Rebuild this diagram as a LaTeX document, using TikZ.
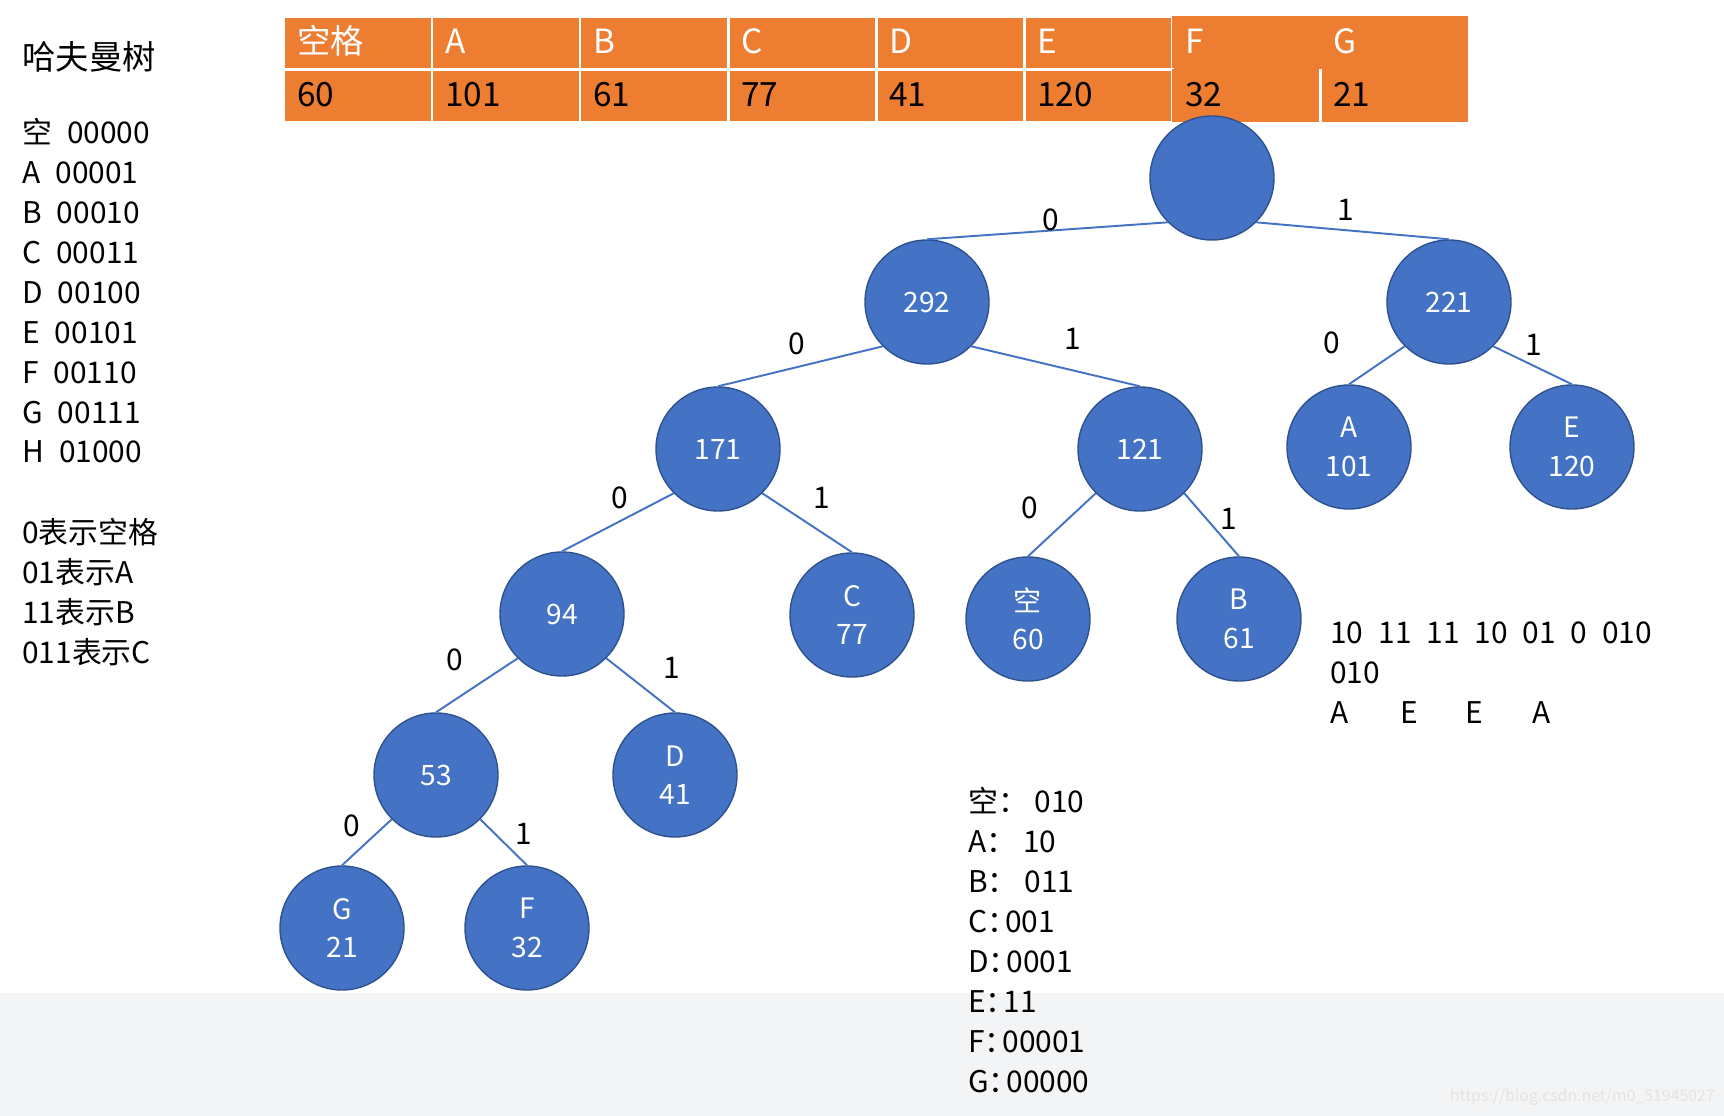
\documentclass[tikz,border=0pt]{standalone}
\usepackage{fontspec}
\setmainfont{Noto Sans CJK SC}
\usepackage{tikz}
\usetikzlibrary{positioning}
\definecolor{hfblue}{HTML}{4472C4}
\definecolor{hfborder}{HTML}{2F528F}
\definecolor{hforange}{HTML}{ED7D31}
\definecolor{hfband}{HTML}{F3F4F6}

\begin{document}
\begin{tikzpicture}[
    cell/.style={rectangle, fill=hforange, draw=white, line width=1.7pt, outer sep=0pt, minimum width=2.96cm, minimum height=1.06cm, inner xsep=0.26cm, inner ysep=0pt, text width=2.44cm, text height=1.5em, text depth=0.25em, align=left, font=\fontsize{19}{22}\selectfont},
    headcell/.style={cell, text=white},
    valcell/.style={cell, text=black},
    hnode/.style={circle, fill=hfblue, draw=hfborder, line width=0.8pt, minimum size=2.48cm, inner sep=0pt, align=center, text=white, font=\fontsize{16}{21.8}\selectfont},
    branch/.style={hfblue, line width=1.1pt},
    bit/.style={midway, inner sep=0pt, text=black, font=\fontsize{17}{20}\selectfont},
    note/.style={anchor=base west, inner sep=0pt, align=left, font=\fontsize{17}{22.7}\selectfont}
]
\useasboundingbox (0,0) rectangle (34.48,-22.32);
\fill[white] (0,0) rectangle (34.48,-22.32);
\fill[hfband] (0,-19.86) rectangle (34.48,-22.32);

% weight table
\node[headcell, anchor=north west] (hKong) at (5.68,-0.33) {空格};
\node[headcell, right=0pt of hKong] (hA) {A};
\node[headcell, right=0pt of hA] (hB) {B};
\node[headcell, right=0pt of hB] (hC) {C};
\node[headcell, right=0pt of hC] (hD) {D};
\node[headcell, right=0pt of hD] (hE) {E};
\node[headcell, draw=none, right=0pt of hE] (hF) {F};
\node[headcell, draw=none, right=0pt of hF] (hG) {G};
\node[valcell, below=0pt of hKong] (vKong) {60};
\node[valcell, below=0pt of hA] (vA) {101};
\node[valcell, below=0pt of hB] (vB) {61};
\node[valcell, below=0pt of hC] (vC) {77};
\node[valcell, below=0pt of hD] (vD) {41};
\node[valcell, below=0pt of hE] (vE) {120};
\node[valcell, draw=none, below=0pt of hF] (vF) {32};
\node[valcell, draw=none, below=0pt of hG] (vG) {21};
\draw[white, line width=1.7pt] (vF.north east) -- (vF.south east);

% tree
\node[hnode] (root) at (24.24,-3.56) {};
\node[hnode] (n292) at (18.54,-6.04) {292};
\node[hnode] (n221) at (28.98,-6.04) {221};
\node[hnode] (n171) at (14.36,-8.98) {171};
\node[hnode] (n121) at (22.80,-8.98) {121};
\node[hnode] (nA) at (26.98,-8.94) {A\\101};
\node[hnode] (nE) at (31.44,-8.94) {E\\120};
\node[hnode] (n94) at (11.24,-12.28) {94};
\node[hnode] (nC) at (17.04,-12.30) {C\\77};
\node[hnode] (nKong) at (20.56,-12.38) {空\\60};
\node[hnode] (nB) at (24.78,-12.38) {B\\61};
\node[hnode] (n53) at (8.72,-15.50) {53};
\node[hnode] (nD) at (13.50,-15.50) {D\\41};
\node[hnode] (nG) at (6.84,-18.56) {G\\21};
\node[hnode] (nF) at (10.54,-18.56) {F\\32};

\draw[branch] (root.south west) -- node[bit, xshift=1.7pt, yshift=6.2pt] {0} (n292.north);
\draw[branch] (root.south east) -- node[bit, xshift=-4pt, yshift=11.9pt] {1} (n221.north);
\draw[branch] (n292.south west) -- node[bit, xshift=-2.3pt, yshift=13pt] {0} (n171.north);
\draw[branch] (n292.south east) -- node[bit, xshift=9.6pt, yshift=15.9pt] {1} (n121.north);
\draw[branch] (n221.south west) -- node[bit, xshift=-25.5pt, yshift=12.5pt] {0} (nA.north);
\draw[branch] (n221.south east) -- node[bit, xshift=0.6pt, yshift=11.9pt] {1} (nE.north);
\draw[branch] (n171.south west) -- node[bit, xshift=1.1pt, yshift=14.2pt] {0} (n94.north);
\draw[branch] (n171.south east) -- node[bit, xshift=8.5pt, yshift=14.2pt] {1} (nC.north);
\draw[branch] (n121.south west) -- node[bit, xshift=-18.1pt, yshift=9.6pt] {0} (nKong.north);
\draw[branch] (n121.south east) -- node[bit, xshift=9.6pt, yshift=3.4pt] {1} (nB.north);
\draw[branch] (n94.south west) -- node[bit, xshift=-12.5pt, yshift=14.7pt] {0} (n53.north);
\draw[branch] (n94.south east) -- node[bit, xshift=17.6pt, yshift=10.2pt] {1} (nD.north);
\draw[branch] (n53.south west) -- node[bit, xshift=-8.5pt, yshift=9.6pt] {0} (nG.north);
\draw[branch] (n53.south east) -- node[bit, xshift=11.3pt, yshift=5.1pt] {1} (nF.north);

% notes (base = last line)
\node[note, font=\fontsize{19}{23}\selectfont] (title) at (0.44,-1.40) {哈夫曼树};
\node[note] (codes) at (0.44,-9.26) {空\enspace 00000\\A\enspace 00001\\B\enspace 00010\\C\enspace 00011\\D\enspace 00100\\E\enspace 00101\\F\enspace 00110\\G\enspace 00111\\H\enspace 01000};
\node[note] (rules) at (0.44,-13.26) {0表示空格\\01表示A\\11表示B\\011表示C};
\node[note] (msg) at (26.60,-14.46) {10\enspace 11\enspace 11\enspace 10\enspace 01\enspace 0\enspace 010\\010\\\makebox[40pt][l]{A}\makebox[37pt][l]{E}\makebox[38pt][l]{E}A};
\node[note] (result) at (19.36,-21.84) {空： 010\\A： 10\\B： 011\\C：\kern-7pt 001\\D：\kern-7pt 0001\\E：\kern-7pt 11\\F：\kern-7pt 00001\\G：\kern-7pt 00000};
\node[anchor=base east, inner sep=0pt, text=gray!22, font=\fontsize{9}{11}\selectfont] (mark) at (34.30,-22.02) {https://blog.csdn.net/m0\_51945027};
\end{tikzpicture}
\end{document}
